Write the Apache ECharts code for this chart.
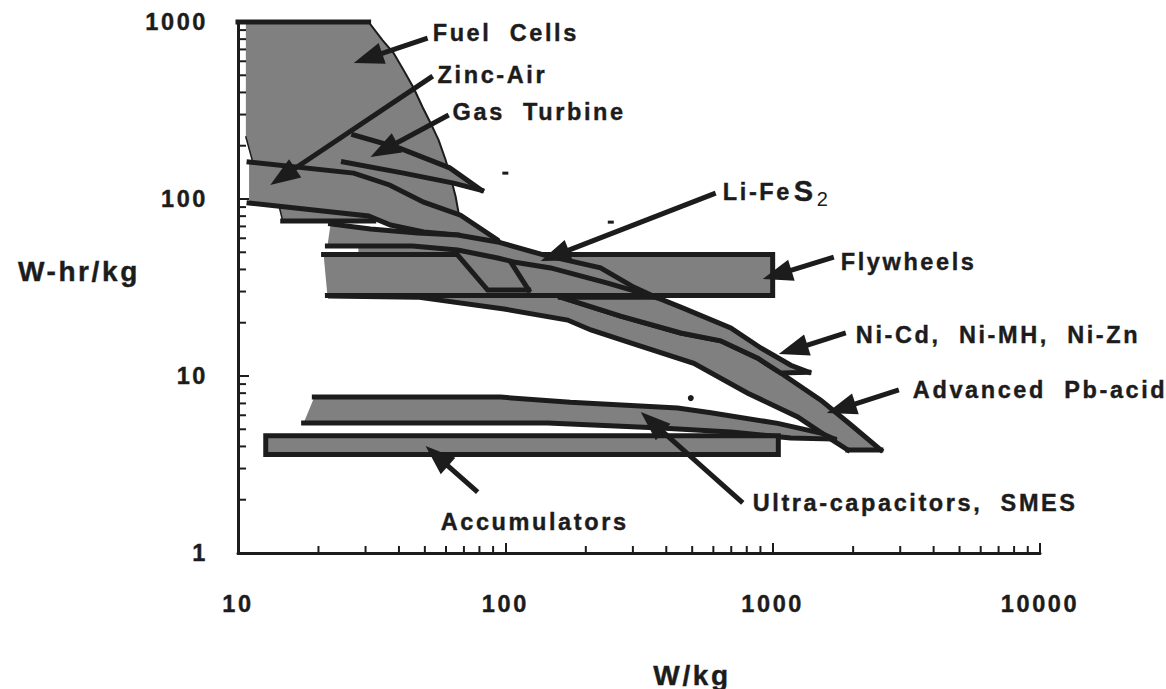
<!DOCTYPE html>
<html>
<head>
<meta charset="utf-8">
<script src="https://cdn.jsdelivr.net/npm/echarts@6/dist/echarts.min.js"></script>
<style>
  html, body { margin: 0; padding: 0; background: #ffffff; }
  #chart { width: 1166px; height: 689px; }
  #chart text { letter-spacing: 2.6px; white-space: pre; }
</style>
</head>
<body>
<div id="chart"></div>
<script>
// Ragone plot: specific energy (W-hr/kg) against specific power (W/kg), log-log.

const X_MAJOR = [10, 100, 1000, 10000];
const Y_MAJOR = [1, 10, 100, 1000];
const X_MINOR = [20, 30, 40, 50, 60, 70, 80, 90, 200, 300, 400, 500, 600, 700, 800, 900,
                 2000, 3000, 4000, 5000, 6000, 7000, 8000, 9000];
const Y_MINOR = [2, 3, 4, 5, 6, 7, 8, 9, 20, 30, 40, 50, 60, 70, 80, 90, 200, 300, 400, 500,
                 600, 700, 800, 900];

// Each region is a closed boundary walked edge by edge, in [W/kg, W-hr/kg].
// w is the stroke weight of that edge (0 = edge left unstroked);
// edges flagged strokeOnly are drawn as lines but are not part of the fill.
const FUEL_CELLS = [
  { w: 5,   pts: [[10, 1000], [30.8, 1000]], strokeOnly: true },
  { w: 0,   pts: [[10.7, 1000], [30.8, 1000]] },
  { w: 2,   pts: [[30.8, 1000], [34.7, 790], [38.2, 668], [41.6, 536], [45.4, 424], [49.0, 331],
                  [52.5, 269], [56.3, 215], [59.8, 166], [62.4, 133], [65.2, 103], [66.9, 83], [68, 78]] },
  { w: 0,   pts: [[68, 78], [32.2, 75]] },
  { w: 5,   pts: [[32.2, 75], [14.7, 75]] },
  { w: 1.5, pts: [[14.7, 75], [14.3, 89]] },
  { w: 0,   pts: [[14.3, 89], [11.3, 166]] },
  { w: 1.5, pts: [[11.3, 166], [10.7, 224]] },
  { w: 0,   pts: [[10.7, 224], [10.7, 1000]] }
];
const GAS_TURBINE = [
  { w: 5, pts: [[27.1, 230], [40.2, 194], [61.9, 150], [81.5, 112]] },
  { w: 5, pts: [[81.5, 112], [64, 123], [41.6, 140], [24.8, 162]] },
  { w: 0, pts: [[24.8, 162], [27.1, 230]] }
];
const ZINC_AIR = [
  { w: 5, pts: [[11.0, 162], [27.1, 140], [36.9, 120], [49.5, 96], [68, 81], [93.6, 58.7],
                [104.7, 44.1], [122.2, 30.6]] },
  { w: 5, pts: [[122.2, 30.6], [85.9, 30.6], [66.3, 48.3]] },
  { w: 0, pts: [[66.3, 48.3], [66.3, 62.6]] },
  { w: 5, pts: [[66.3, 62.6], [49.5, 65.1], [37.2, 71.3], [30.8, 80.2], [11.0, 94.9]] },
  { w: 0, pts: [[11.0, 94.9], [11.0, 162]] }
];
const LI_FES2 = [
  { w: 5, pts: [[22.2, 72.3], [31.3, 67.7], [47, 64.3], [66.3, 62.6], [93.6, 57.2], [139, 48.3],
                [227, 40.8], [302, 31.8], [365, 27.9]] },
  { w: 5, pts: [[365, 27.9], [241.5, 33.5], [147.7, 40.8], [107.4, 44.1], [93.6, 46.4], [66.3, 51.5],
                [45, 54.3], [21.6, 54.3]] },
  { w: 0, pts: [[21.6, 54.3], [22.2, 72.3]] }
];
const FLYWHEELS = [
  { w: 0, pts: [[21.6, 28.5], [20.9, 48.5], [28.2, 48.5], [28.2, 54.3], [66.3, 54.3], [66.3, 48.5]] },
  { w: 5, pts: [[66.3, 48.5], [1000, 48.5], [1000, 28.5], [21.6, 28.5]] },
  { w: 5, pts: [[20.9, 48.5], [66.3, 48.5]], strokeOnly: true }
];
const NI_CD = [
  { w: 5, pts: [[161, 27.9], [365, 27.9]] },
  { w: 5, pts: [[365, 27.9], [453, 24.5], [697, 18.7], [903, 14.4], [1169, 11.5], [1365, 10.5]] },
  { w: 5, pts: [[1365, 10.5], [1072, 10.4], [880, 12.6], [639, 15.8], [453, 17.5], [270, 21.8], [161, 27.9]] }
];
const PB_ACID = [
  { w: 5, pts: [[161, 27.9], [270, 21.8], [453, 17.5], [639, 15.8], [880, 12.6], [1072, 10.4], [1514, 7.3],
                [1960, 5.3], [2539, 3.82]] },
  { w: 5, pts: [[2539, 3.82], [1910, 3.82]] },
  { w: 5, pts: [[1910, 3.82], [1608, 4.52], [1241, 5.87], [807, 8.0], [507, 11.8], [294, 15.4],
                [209, 18.2], [171, 20.7], [99, 23.9], [47, 27.9], [22.2, 28.3]] },
  { w: 0, pts: [[22.2, 28.3], [161, 27.9]] }
];
const ULTRACAP = [
  { w: 5, pts: [[19.3, 7.6], [96, 7.6], [175, 7.1], [441, 6.6], [587, 6.2], [1045, 5.4],
                [1514, 4.76], [1700, 4.4]] },
  { w: 5, pts: [[1700, 4.4], [1169, 4.46], [697, 4.83], [381, 5.08], [144, 5.43], [17.6, 5.43]] },
  { w: 0, pts: [[17.6, 5.43], [19.3, 7.6]] }
];
const ACCUMULATORS = [
  { w: 5, pts: [[12.7, 4.6], [1050, 4.6], [1050, 3.6], [12.7, 3.6], [12.7, 4.6]] }
];

// Small stray marks in the plot area
const SPECKS = [[100, 140], [248, 74], [494, 7.5]];

// Callouts: label anchor, arrow tail, arrow tip (all in data units)
const CALLOUTS = [
  { text: 'Fuel  Cells',             at: [53.5, 867],  tail: [51.2, 812],  tip: [27.1, 587] },
  { text: 'Zinc-Air',                at: [55.8, 502],  tail: [53.5, 495],  tip: [13.2, 120] },
  { text: 'Gas  Turbine',            at: [63.5, 310],  tail: [61.4, 298],  tip: [31.3, 172.7] },
  { text: 'Li-Fe',                   at: [651, 109.5], tail: [612, 108],   tip: [135.6, 44.6], formula: true },
  { text: 'Flywheels',               at: [1798, 44.1], tail: [1693, 47.0], tip: [918, 35.3] },
  { text: 'Ni-Cd,  Ni-MH,  Ni-Zn',   at: [2047, 17.0], tail: [1877, 17.5], tip: [1054, 13.3] },
  { text: 'Advanced  Pb-acid',       at: [3345, 8.34], tail: [2965, 8.34], tip: [1594, 6.18] },
  { text: 'Ultra-capacitors,  SMES', at: [842, 1.92],  tail: [773, 1.92],  tip: [321, 6.26] },
  { text: 'Accumulators',            at: [57.3, 1.50], tail: [78.8, 2.21], tip: [50.3, 4.02] }
];

const INK = '#1c1c1c';
const GRAY = '#808080';
const FONT = '"Liberation Sans", Arial, Helvetica, sans-serif';
const LABEL_FONT = 'bold 23.5px ' + FONT;

function regionSeries(name, edges) {
  return {
    type: 'custom',
    name: name,
    coordinateSystem: 'cartesian2d',
    clip: false,
    silent: true,
    data: [edges[0].pts[0]],
    encode: { x: 0, y: 1 },
    renderItem: function (params, api) {
      const fill = [];
      edges.forEach(e => { if (!e.strokeOnly) e.pts.forEach(p => fill.push(api.coord(p))); });
      const children = [{
        type: 'polygon',
        shape: { points: fill },
        style: { fill: GRAY, stroke: null }
      }];
      edges.forEach(e => {
        if (!e.w) return;
        children.push({
          type: 'polyline',
          shape: { points: e.pts.map(p => api.coord(p)) },
          style: { stroke: INK, lineWidth: e.w, fill: null, lineJoin: 'miter', lineCap: 'square' }
        });
      });
      return { type: 'group', children: children };
    }
  };
}

function minorTickSeries(values, axis) {
  return {
    type: 'custom',
    name: axis + ' minor ticks',
    coordinateSystem: 'cartesian2d',
    clip: false,
    silent: true,
    data: values.map(v => axis === 'x' ? [v, 1] : [10, v]),
    encode: { x: 0, y: 1 },
    renderItem: function (params, api) {
      const p = api.coord([api.value(0), api.value(1)]);
      const shape = axis === 'x'
        ? { x1: p[0], y1: p[1], x2: p[0], y2: p[1] - 7 }
        : { x1: p[0], y1: p[1], x2: p[0] + 8, y2: p[1] };
      return { type: 'line', shape: shape, style: { stroke: INK, lineWidth: 2 } };
    }
  };
}

const calloutSeries = {
  type: 'custom',
  name: 'callouts',
  coordinateSystem: 'cartesian2d',
  clip: false,
  silent: true,
  data: CALLOUTS.map(c => c.tip),
  encode: { x: 0, y: 1 },
  renderItem: function (params, api) {
    const c = CALLOUTS[params.dataIndex];
    const t = api.coord(c.tail), p = api.coord(c.tip), a = api.coord(c.at);
    const dx = p[0] - t[0], dy = p[1] - t[1], len = Math.hypot(dx, dy);
    const ux = dx / len, uy = dy / len;
    const HL = 30, HW = 11;
    const bx = p[0] - ux * HL, by = p[1] - uy * HL;
    const children = [
      { type: 'line', shape: { x1: t[0], y1: t[1], x2: bx + ux * 4, y2: by + uy * 4 },
        style: { stroke: INK, lineWidth: 5, lineCap: 'butt' } },
      { type: 'polygon', shape: { points: [p, [bx - uy * HW, by + ux * HW], [bx + uy * HW, by - ux * HW]] },
        style: { fill: INK } },
      { type: 'text', x: a[0], y: a[1],
        style: { text: c.text, fill: INK, stroke: INK, lineWidth: 0.4, font: LABEL_FONT,
                 textAlign: 'left', textVerticalAlign: 'middle' } }
    ];
    if (c.formula) {
      children.push({ type: 'text', x: a[0] + 71, y: a[1] - 1,
        style: { text: 'S', fill: INK, stroke: INK, lineWidth: 0.4, font: 'bold 29px ' + FONT,
                 textAlign: 'left', textVerticalAlign: 'middle' } });
      children.push({ type: 'text', x: a[0] + 94, y: a[1] + 7,
        style: { text: '2', fill: INK, font: '20px ' + FONT, textAlign: 'left', textVerticalAlign: 'middle' } });
    }
    return { type: 'group', children: children };
  }
};

const speckSeries = {
  type: 'custom',
  name: 'specks',
  coordinateSystem: 'cartesian2d',
  clip: false,
  silent: true,
  data: SPECKS,
  encode: { x: 0, y: 1 },
  renderItem: function (params, api) {
    const p = api.coord([api.value(0), api.value(1)]);
    if (params.dataIndex === 2) {
      return { type: 'circle', shape: { cx: p[0], cy: p[1], r: 3 }, style: { fill: INK } };
    }
    return { type: 'rect', shape: { x: p[0] - 3, y: p[1] - 1.5, width: 6, height: 3 }, style: { fill: INK } };
  }
};

const axisText = {
  fontSize: 23.5, fontWeight: 'bold', color: INK, fontFamily: FONT,
  textBorderColor: INK, textBorderWidth: 0.4,
  formatter: v => String(v)
};

const option = {
  backgroundColor: '#ffffff',
  animation: false,
  grid: { left: 238, right: 126, top: 22, bottom: 136, containLabel: false },
  xAxis: {
    type: 'log', logBase: 10, min: X_MAJOR[0], max: X_MAJOR[X_MAJOR.length - 1],
    axisLine: { show: true, onZero: false, lineStyle: { color: INK, width: 3 } },
    axisTick: { show: true, inside: true, length: 10, lineStyle: { color: INK, width: 2 } },
    axisLabel: Object.assign({ margin: 39 }, axisText),
    splitLine: { show: false }
  },
  yAxis: {
    type: 'log', logBase: 10, min: Y_MAJOR[0], max: Y_MAJOR[Y_MAJOR.length - 1],
    axisLine: { show: true, onZero: false, lineStyle: { color: INK, width: 3 } },
    axisTick: { show: true, inside: true, length: 11, lineStyle: { color: INK, width: 2 } },
    axisLabel: Object.assign({ margin: 30 }, axisText),
    splitLine: { show: false }
  },
  graphic: [
    { type: 'text', x: 18, y: 271,
      style: { text: 'W-hr/kg', fill: INK, stroke: INK, lineWidth: 0.4, font: 'bold 28px ' + FONT,
               textAlign: 'left', textVerticalAlign: 'middle' } },
    { type: 'text', x: 692, y: 675,
      style: { text: 'W/kg', fill: INK, stroke: INK, lineWidth: 0.4, font: 'bold 28px ' + FONT,
               textAlign: 'center', textVerticalAlign: 'middle' } }
  ],
  series: [
    regionSeries('Advanced Pb-acid', PB_ACID),
    regionSeries('Ni-Cd, Ni-MH, Ni-Zn', NI_CD),
    regionSeries('Flywheels', FLYWHEELS),
    regionSeries('Fuel Cells', FUEL_CELLS),
    regionSeries('Gas Turbine', GAS_TURBINE),
    regionSeries('Zinc-Air', ZINC_AIR),
    regionSeries('Li-FeS2', LI_FES2),
    regionSeries('Ultra-capacitors, SMES', ULTRACAP),
    regionSeries('Accumulators', ACCUMULATORS),
    minorTickSeries(X_MINOR, 'x'),
    minorTickSeries(Y_MINOR, 'y'),
    speckSeries,
    calloutSeries
  ]
};

const chart = echarts.init(document.getElementById('chart'), null, { renderer: 'svg', width: 1166, height: 689 });
chart.setOption(option);
</script>
</body>
</html>
